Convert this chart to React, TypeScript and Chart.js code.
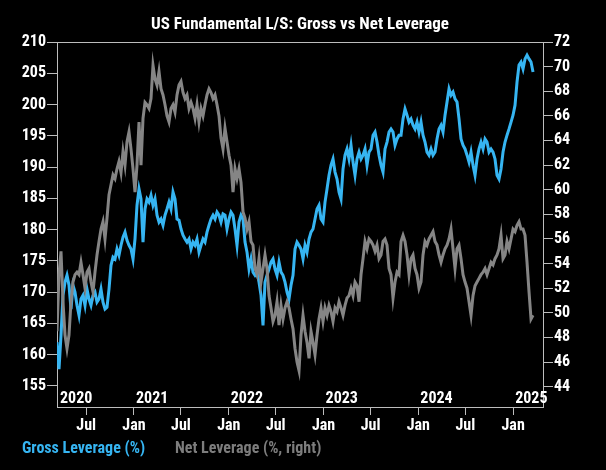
import React, { useEffect, useRef } from 'react';
import { Chart, registerables } from 'chart.js';

Chart.register(...registerables);

const TITLE = 'US Fundamental L/S: Gross vs Net Leverage';
const SERIES_NAMES = ['Gross Leverage (%)', 'Net Leverage (%, right)'];

// x positions in decimal years; one reading every ~7.7 days
const X_START = 2020.188;
const X_STEP = 0.0211;
const X_MIN = 2020.188;
const X_MAX = 2025.315;

const GROSS = [
  162.0, 157.7, 163.1, 169.5, 171.6, 172.7, 171.1, 167.3, 171.1, 170.0, 167.9, 166.3, 168.9, 169.5, 167.9, 170.5,
  168.9, 167.9, 169.5, 170.0, 168.4, 168.9, 170.5, 168.4, 167.3, 167.6, 170.5, 174.3, 175.6, 175.3, 176.9, 175.9,
  177.5, 178.8, 179.6, 178.3, 177.5, 176.9, 175.3, 178.5, 183.9, 186.5, 184.9, 178.0, 183.3, 184.9, 184.4, 185.5,
  183.9, 184.9, 182.3, 181.2, 181.7, 180.7, 182.3, 183.3, 184.4, 183.3, 186.0, 184.9, 181.7, 181.5,
  180.1, 179.1, 178.5, 178.0, 178.5, 176.9, 178.0, 177.5, 178.5, 176.4, 177.5, 178.5, 178.0, 179.6, 180.7, 181.7,
  182.3, 181.7, 182.8, 182.3, 181.2, 182.5, 182.3, 180.1, 181.7, 182.8, 182.3, 180.1, 177.5, 181.2, 182.3, 181.7,
  178.0, 176.4, 173.7, 175.3, 173.2, 172.7, 173.2, 171.6, 169.5, 164.7, 171.6, 172.7, 173.7, 174.8, 175.3, 173.7,
  172.7, 174.8, 173.2, 172.7, 171.6, 170.0, 168.9, 171.1, 172.7, 176.9, 178.0, 177.5,
  176.9, 175.3, 177.5, 176.4, 178.5, 179.6, 180.1, 181.7, 183.3, 183.9, 181.7, 181.2, 184.4, 186.5, 188.7, 190.3,
  191.3, 189.2, 188.1, 186.0, 184.9, 189.7, 191.9, 192.9, 191.3, 193.5, 190.8, 188.7, 191.3, 192.4, 191.3, 191.9,
  192.9, 190.3, 192.4, 192.9, 195.1, 195.6, 194.0, 191.9, 190.3, 189.2, 192.9, 194.0, 195.6, 196.1, 195.6, 193.5,
  194.5, 195.1, 195.1, 197.7, 199.3, 198.3, 197.2, 197.7, 196.7, 196.1, 197.2, 195.6,
  197.2, 195.1, 194.0, 192.4, 191.9, 192.9, 191.9, 192.4, 194.5, 196.1, 196.7, 195.6, 198.3, 200.4, 202.5, 201.5,
  202.0, 200.9, 200.4, 197.7, 194.5, 193.5, 192.9, 191.9, 190.8, 192.4, 190.3, 188.7, 191.3, 192.9, 194.0, 192.9,
  194.5, 194.0, 192.4, 192.9, 192.4, 191.3, 188.7, 188.1, 189.7, 192.4, 194.0, 195.1, 196.1, 197.2, 198.3, 199.9,
  203.6, 206.3, 206.8, 205.7, 207.3, 207.9, 207.3, 206.8, 205.2,
];

const NET = [
  48.5, 53.1, 55.0, 50.9, 48.2, 47.1, 48.2, 50.9, 52.5, 53.1, 53.3, 53.1, 54.1, 53.1, 52.0, 53.3,
  53.6, 52.5, 51.7, 53.3, 54.7, 55.8, 56.8, 57.4, 56.0, 57.7, 59.6, 60.4, 61.2, 60.9, 61.7, 62.3,
  61.4, 63.1, 62.0, 63.9, 64.7, 63.3, 61.7, 59.8, 62.0, 65.5, 62.0, 65.8, 67.1, 66.9, 66.6, 67.4,
  70.1, 69.0, 68.5, 69.6, 68.2, 67.7, 66.9, 66.0, 65.5, 66.6, 66.9, 66.3, 67.7, 68.5,
  68.8, 67.9, 67.4, 67.7, 66.6, 67.1, 66.6, 65.8, 66.9, 65.5, 66.6, 66.0, 66.9, 67.7, 68.2, 67.9,
  67.4, 67.7, 66.9, 66.0, 64.2, 63.3, 65.0, 63.9, 62.8, 62.0, 59.8, 61.7, 60.9, 61.7, 60.6, 58.2,
  57.7, 56.8, 57.4, 55.8, 55.5, 53.6, 53.1, 54.4, 52.5, 53.6, 54.7, 53.6, 51.4, 50.4, 49.3, 49.8,
  50.9, 49.0, 50.6, 49.5, 50.4, 50.9, 50.4, 49.5, 48.7, 47.1, 46.0, 45.3,
  48.2, 49.8, 48.5, 47.6, 46.3, 48.5, 47.6, 46.6, 48.2, 49.5, 50.4, 49.3, 50.4, 49.8, 50.6, 50.1,
  49.3, 50.4, 50.1, 50.9, 50.4, 49.8, 50.6, 51.2, 51.4, 52.0, 51.4, 52.5, 52.2, 50.9, 53.1, 54.4,
  55.8, 55.2, 56.0, 55.8, 55.5, 55.0, 55.5, 54.4, 54.7, 55.8, 56.0, 55.5, 53.6, 53.1, 51.2, 52.5,
  53.3, 53.1, 55.8, 56.3, 55.8, 54.7, 53.1, 54.4, 54.7, 53.6, 53.1, 52.0,
  52.5, 54.7, 55.8, 55.5, 56.0, 56.3, 56.6, 55.8, 55.5, 54.7, 54.1, 54.7, 55.2, 55.5, 56.0, 56.8,
  55.2, 53.6, 55.2, 55.5, 54.4, 53.1, 52.5, 52.0, 50.9, 49.8, 51.4, 52.2, 52.5, 52.8, 53.1, 53.3,
  53.6, 53.1, 53.6, 54.1, 53.9, 54.4, 54.7, 55.2, 56.3, 54.4, 54.7, 55.8, 55.2, 56.0, 56.8, 56.6,
  57.1, 57.4, 56.8, 56.8, 56.3, 54.1, 51.7, 49.5, 49.8,
];

const X_TICKS = [2020.496, 2021, 2021.496, 2022, 2022.496, 2023, 2023.496, 2024, 2024.496, 2025];
const X_TICK_LABELS = ['Jul', 'Jan', 'Jul', 'Jan', 'Jul', 'Jan', 'Jul', 'Jan', 'Jul', 'Jan'];
const YEARS = [2020, 2021, 2022, 2023, 2024, 2025];
const YEAR_LABELS = ['2020', '2021', '2022', '2023', '2024', '2025'];
const LEFT_TICKS = [155, 160, 165, 170, 175, 180, 185, 190, 195, 200, 205, 210];
const RIGHT_TICKS = [44, 46, 48, 50, 52, 54, 56, 58, 60, 62, 64, 66, 68, 70, 72];

const FONT = '"Roboto Condensed", "Liberation Sans Narrow", "DejaVu Sans Condensed", "Arial Narrow", sans-serif';
const BLUE = '#36b5f2';
const GRAY = '#858585';
const AXIS = '#bdbdbd';
const WHITE = '#ffffff';

const framePlugin = {
  id: 'frame',
  afterDraw(chart: any) {
    const { ctx, chartArea } = chart;
    const xs = chart.scales.x;
    ctx.save();
    ctx.strokeStyle = AXIS;
    ctx.lineWidth = 1;
    ctx.beginPath();
    ctx.moveTo(chartArea.left, chartArea.top + 0.5);
    ctx.lineTo(chartArea.right, chartArea.top + 0.5);
    ctx.stroke();
    ctx.fillStyle = WHITE;
    ctx.font = `bold 16px ${FONT}`;
    ctx.textAlign = 'left';
    ctx.textBaseline = 'alphabetic';
    YEARS.forEach((yr, i) => {
      const px = Math.max(chartArea.left + 3, xs.getPixelForValue(yr) + 2);
      ctx.fillText(YEAR_LABELS[i], px, chartArea.bottom - 4);
    });
    ctx.restore();
  },
};

export default function App() {
  const ref = useRef<HTMLCanvasElement>(null);
  useEffect(() => {
    const tickFont = { family: FONT, size: 16, weight: 'bold' as const };
    const chart = new Chart(ref.current as HTMLCanvasElement, {
      type: 'line',
      data: {
        datasets: [
          {
            label: SERIES_NAMES[1],
            data: NET.map((y, i) => ({ x: X_START + i * X_STEP, y })),
            yAxisID: 'y1',
            borderColor: GRAY,
            backgroundColor: GRAY,
            borderWidth: 3,
            pointRadius: 0,
            tension: 0,
            order: 0,
          },
          {
            label: SERIES_NAMES[0],
            data: GROSS.map((y, i) => ({ x: X_START + i * X_STEP, y })),
            yAxisID: 'y',
            borderColor: BLUE,
            backgroundColor: BLUE,
            borderWidth: 3,
            pointRadius: 0,
            tension: 0,
            order: 1,
          },
        ],
      },
      options: {
        animation: false,
        responsive: true,
        maintainAspectRatio: false,
        layout: { padding: { top: 42, left: 0, right: 0, bottom: 0 } },
        plugins: {
          legend: { display: false },
          tooltip: { enabled: false },
          title: { display: false },
        },
        scales: {
          x: {
            type: 'linear',
            min: X_MIN,
            max: X_MAX,
            afterBuildTicks: (s: any) => {
              s.ticks = X_TICKS.map((v) => ({ value: v }));
            },
            afterFit: (s: any) => {
              s.height = 63;
            },
            ticks: {
              autoSkip: false,
              maxRotation: 0,
              color: WHITE,
              font: tickFont,
              padding: 1,
              callback: (v: any) => X_TICK_LABELS[X_TICKS.indexOf(v)] ?? '',
            },
            grid: { drawOnChartArea: false, drawTicks: true, tickLength: 8, color: AXIS },
            border: { display: true, color: AXIS },
          },
          y: {
            type: 'linear',
            position: 'left',
            min: 151.64,
            max: 210,
            afterBuildTicks: (s: any) => {
              s.ticks = LEFT_TICKS.map((v) => ({ value: v }));
            },
            afterFit: (s: any) => {
              s.width = 57;
            },
            ticks: { color: WHITE, font: tickFont, padding: 1 },
            grid: { drawOnChartArea: false, drawTicks: true, tickLength: 10, color: AXIS },
            border: { display: true, color: AXIS },
          },
          y1: {
            type: 'linear',
            position: 'right',
            min: 42.35,
            max: 72,
            afterBuildTicks: (s: any) => {
              s.ticks = RIGHT_TICKS.map((v) => ({ value: v }));
            },
            afterFit: (s: any) => {
              s.width = 63;
            },
            ticks: { color: WHITE, font: tickFont, padding: 1 },
            grid: { drawOnChartArea: false, drawTicks: true, tickLength: 10, color: AXIS },
            border: { display: true, color: AXIS },
          },
        },
      },
      plugins: [framePlugin],
    } as any);
    return () => chart.destroy();
  }, []);

  return (
    <div style={{ position: 'fixed', left: 0, top: 0, width: 606, height: 470, background: '#000', overflow: 'hidden' }}>
      <div style={{ position: 'absolute', left: 0, top: 0, width: 606, height: 470 }}>
        <canvas ref={ref} />
      </div>
      <div
        style={{
          position: 'absolute', left: 0, top: 13, width: 600, textAlign: 'center',
          color: WHITE, fontFamily: FONT, fontWeight: 'bold', fontSize: 17, lineHeight: '20px',
        }}
      >
        {TITLE}
      </div>
      <div
        style={{
          position: 'absolute', left: 22, top: 438, color: BLUE, fontFamily: FONT,
          fontWeight: 'bold', fontSize: 16, lineHeight: '20px', whiteSpace: 'nowrap',
        }}
      >
        {SERIES_NAMES[0]}
      </div>
      <div
        style={{
          position: 'absolute', left: 175, top: 438, color: '#7d7d7d', fontFamily: FONT,
          fontWeight: 'bold', fontSize: 16, lineHeight: '20px', whiteSpace: 'nowrap',
        }}
      >
        {SERIES_NAMES[1]}
      </div>
    </div>
  );
}
